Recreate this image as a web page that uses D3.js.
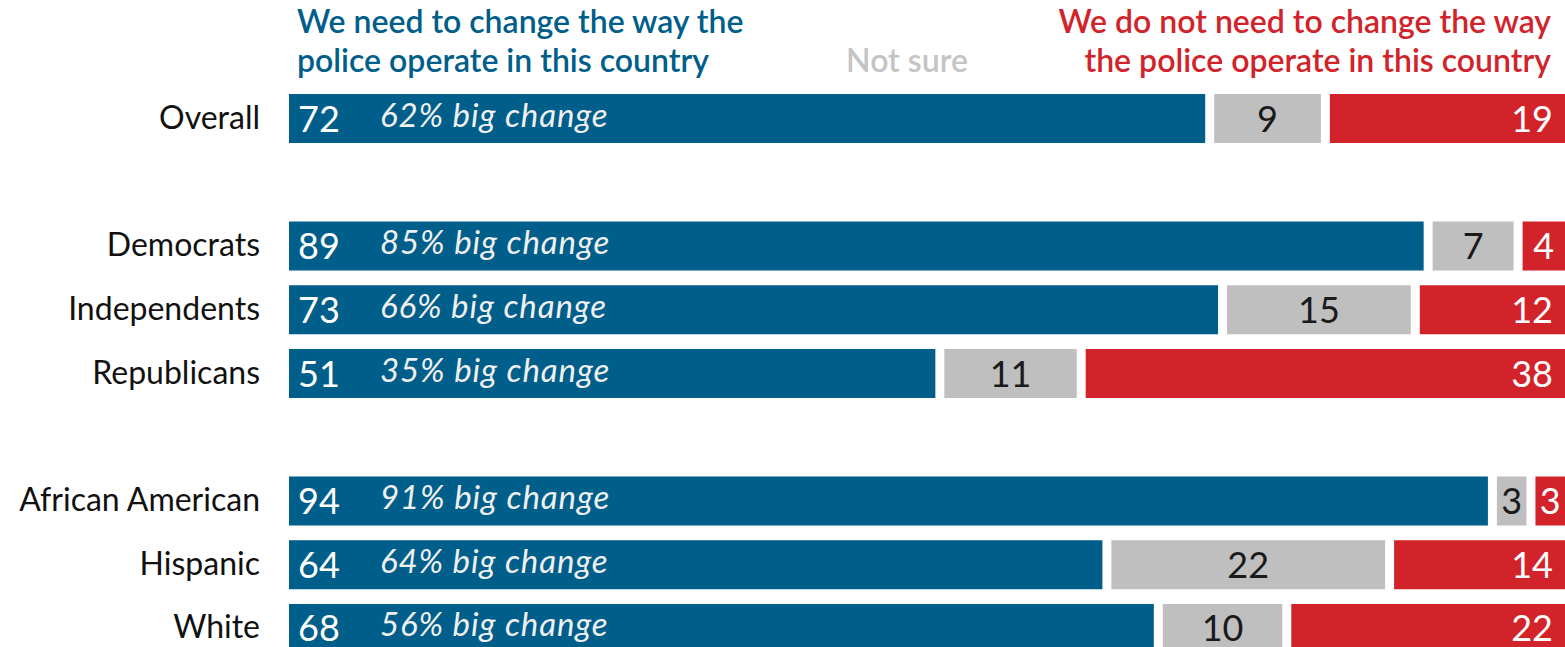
<!DOCTYPE html>
<html>
<head>
<meta charset="utf-8"/>
<script src="https://d3js.org/d3.v7.min.js"></script>
<style>
    body { margin: 0; background: #ffffff; font-family: Lato, "Noto Sans", sans-serif; }
    svg { display: block; }
</style>
</head>
<body>
<svg id="chart" width="1565" height="647"></svg>
<script>
// rows, with null for the blank spacer rows between groups
var categories = ["Overall", null, "Democrats", "Independents", "Republicans", null, "African American", "Hispanic", "White"];
var needChange = [72, null, 89, 73, 51, null, 94, 64, 68];
var bigChange  = [62, null, 85, 66, 35, null, 91, 64, 56];
var notSure    = [9, null, 7, 15, 11, null, 3, 22, 10];
var noChange   = [19, null, 4, 12, 38, null, 3, 14, 22];

var blue = "#005e8a", grey = "#bfbfbf", red = "#d2232a";
var gap = 9;

var svg = d3.select("#chart");

var x = d3.scaleLinear().domain([0, 100]).range([289, 1565 + gap]);
// step ~64px, bars ~49px tall, last one runs past the bottom edge
var y = d3.scaleBand().domain(d3.range(categories.length)).range([94, 653])
    .paddingInner(0.231).paddingOuter(0);

// headers
var hdr = svg.append("g").attr("font-size", 32).attr("font-weight", 600);
hdr.append("text").attr("x", 297).attr("y", 33).attr("fill", blue).text("We need to change the way the");
hdr.append("text").attr("x", 297).attr("y", 72).attr("fill", blue).text("police operate in this country");
hdr.append("text").attr("x", 907).attr("y", 72).attr("fill", "#c4c4c4").attr("text-anchor", "middle").text("Not sure");
hdr.append("text").attr("x", 1551).attr("y", 33).attr("fill", red).attr("text-anchor", "end").text("We do not need to change the way");
hdr.append("text").attr("x", 1551).attr("y", 72).attr("fill", red).attr("text-anchor", "end").text("the police operate in this country");

var rows = d3.range(categories.length).filter(function (i) { return categories[i] !== null; });

rows.forEach(function (i) {
    var top = y(i), h = y.bandwidth(), mid = top + h / 2;
    var a = needChange[i], b = notSure[i], c = noChange[i];

    svg.append("text").attr("x", 260).attr("y", mid + 10).attr("text-anchor", "end")
        .attr("font-size", 32).attr("fill", "#111").text(categories[i]);

    // segments
    svg.append("rect").attr("x", x(0)).attr("y", top).attr("height", h)
        .attr("width", x(a) - x(0) - gap).attr("fill", blue);
    svg.append("rect").attr("x", x(a)).attr("y", top).attr("height", h)
        .attr("width", x(a + b) - x(a) - gap).attr("fill", grey);
    svg.append("rect").attr("x", x(a + b)).attr("y", top).attr("height", h)
        .attr("width", x(100) - x(a + b) - gap).attr("fill", red);

    // labels
    svg.append("text").attr("x", x(0) + 9).attr("y", mid + 13).attr("font-size", 36)
        .attr("fill", "#fff").text(a);
    svg.append("text").attr("x", 380).attr("y", mid + 8).attr("font-size", 33)
        .attr("font-style", "italic").attr("letter-spacing", 0.9).attr("fill", "#f0f0f0")
        .text(bigChange[i] + "% big change");
    svg.append("text").attr("x", (x(a) + x(a + b) - gap) / 2).attr("y", mid + 13)
        .attr("text-anchor", "middle").attr("font-size", 36).attr("fill", "#1a1a1a").text(b);
    svg.append("text").attr("x", c < 5 ? (x(a + b) + x(100) - gap) / 2 : 1553).attr("y", mid + 13)
        .attr("text-anchor", c < 5 ? "middle" : "end").attr("font-size", 36).attr("fill", "#fff").text(c);
});
</script>
</body>
</html>
